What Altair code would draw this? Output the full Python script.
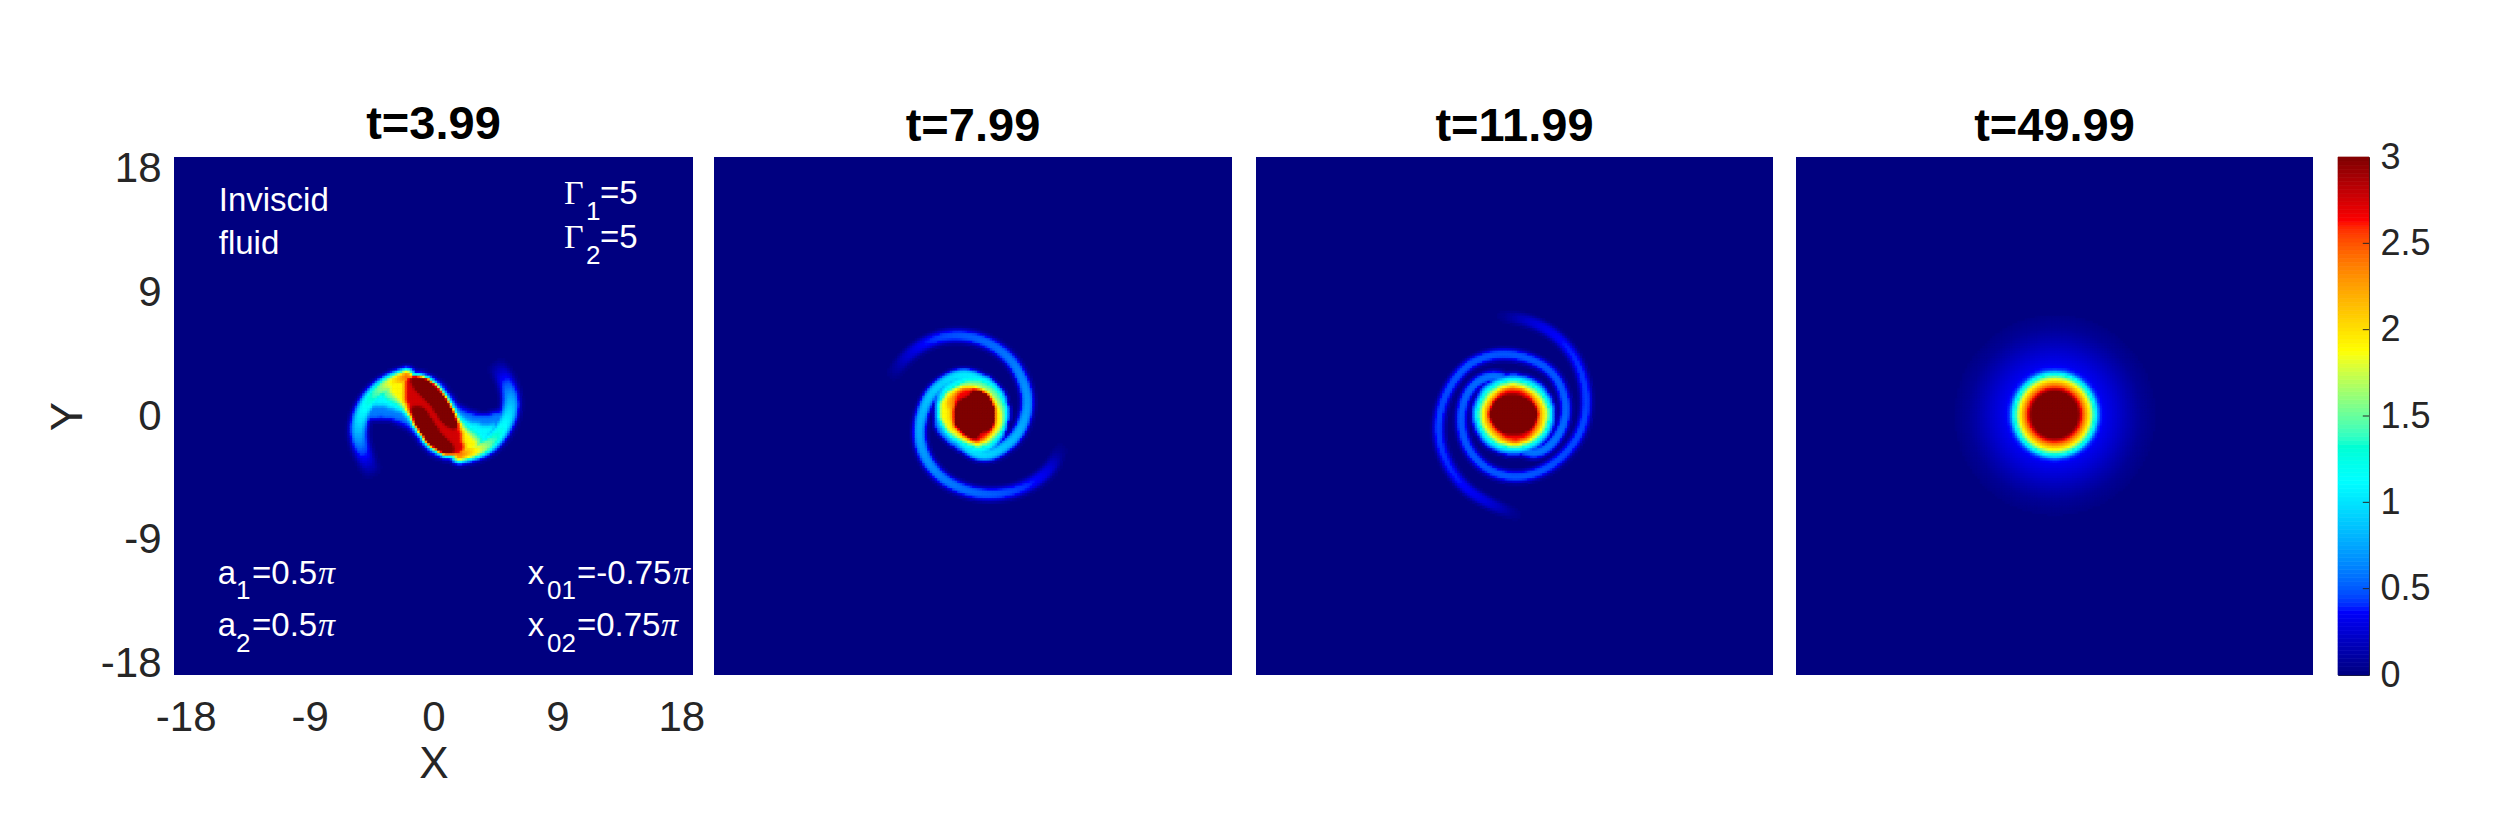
import numpy as np
import pandas as pd
import altair as alt

alt.data_transformers.disable_max_rows()

# ---------- values ----------
TITLES = ["t=3.99", "t=7.99", "t=11.99", "t=49.99"]
AXIS_TICKS = [-18, -9, 0, 9, 18]
CB_TICKS = [0, 0.5, 1, 1.5, 2, 2.5, 3]
JET_DOMAIN = [0, 0.375, 1.125, 1.875, 2.625, 3]
JET_RANGE = ["#000080", "#0000ff", "#00ffff", "#ffff00", "#ff0000", "#800000"]
LIM = 18.85

# Annotations: text, x, y in data units
SANS_BIG = [("Inviscid", -15.6, 14.92), ("fluid", -15.6, 11.79), ("=5", 12.09, 15.43), ("=5", 12.09, 12.23),
            ("a", -15.68, -12.23), ("a", -15.68, -16.01), ("=0.5", -13.18, -12.23), ("=0.5", -13.18, -16.01),
            ("x", 6.84, -12.23), ("x", 6.84, -16.01), ("=-0.75", 10.42, -12.23), ("=0.75", 10.42, -16.01)]
SANS_SUB = [("1", 11.07, 14.26), ("2", 11.07, 11.06), ("1", -14.34, -13.32), ("2", -14.34, -17.18),
            ("01", 8.24, -13.32), ("02", 8.24, -17.18)]
GAMMA = [("Γ", 9.48, 15.43), ("Γ", 9.48, 12.23)]
PI = [("π", -8.39, -12.23), ("π", -8.39, -16.01), ("π", 17.39, -12.23), ("π", 16.52, -16.01)]

P1_LEVELS = [
    (0.3, [(135,225),(195,150),(280,118),(335,128),(378,165),(418,220),(450,240),(505,248),(550,230),(575,255),(548,328),(490,375),(400,392),(345,382),(302,345),(272,300),(235,280),(175,262),(130,280),(105,270)]),
    (0.6, [(150,215),(200,160),(280,125),(330,135),(370,170),(410,225),(440,250),(500,258),(545,240),(565,260),(540,320),(490,365),(400,385),(350,375),(310,340),(280,290),(240,270),(180,255),(135,270),(115,265)]),
    (1.1, [(180,180),(215,152),(255,135),(290,132),(325,142),(355,165),(382,200),(405,238),(425,262),(460,278),(500,285),(535,278),(500,330),(465,358),(425,375),(390,378),(355,368),(325,345),(298,310),(275,272),(255,248),(220,232),(180,225),(145,232)]),
    (1.5, [(190,172),(225,145),(270,130),(310,135),(345,160),(378,200),(402,240),(425,275),(465,305),(495,330),(475,358),(430,378),(385,380),(345,360),(308,325),(280,280),(258,245),(225,215),(190,200)]),
    (1.9, [(222,148),(260,133),(300,133),(340,153),(373,188),(397,226),(415,266),(435,295),(465,322),(480,347),(458,362),(420,376),(380,378),(342,358),(307,323),(283,284),(262,245),(245,215),(215,188),(200,165)]),
    (2.75, [(250,143),(285,132),(324,142),(355,167),(385,207),(405,248),(420,283),(430,320),(434,368),(395,379),(358,369),(325,343),(296,304),(275,262),(260,227),(254,190)]),
    (3.6, [(270,138),(300,138),(340,155),(372,192),(396,232),(412,272),(405,292),(385,285),(362,258),(336,218),(306,188),(285,168)]),
    (3.6, [(278,230),(305,228),(332,268),(362,314),(392,340),(402,372),(370,367),(335,345),(304,310),(282,270)]),
]
P1_ARMS = [
    ([(165,440,0.0),(135,380,0.35),(115,320,0.75),(118,270,1.0),(140,220,1.2),(175,180,1.5),(215,155,1.9),(260,140,2.4)], 26),
    ([(520,90,0.0),(555,140,0.35),(575,200,0.75),(570,250,1.0),(545,300,1.2),(510,340,1.5),(470,360,1.9),(420,370,2.4)], 26),
]
P2_LEVELS = [
    (0.7, [(250,230),(300,195),(360,185),(420,195),(465,240),(482,300),(470,370),(430,425),(385,442),(340,428),(300,400),(265,370),(250,320),(255,270)]),
    (1.1, [(285,225),(330,198),(380,192),(425,205),(460,245),(476,305),(462,370),(420,420),(385,432),(350,415),(325,398),(285,365),(263,320),(265,270)]),
    (1.55, [(320,222),(370,205),(420,220),(452,255),(472,310),(458,365),(420,405),(380,412),(340,398),(290,365),(266,320),(272,270)]),
    (1.9, [(295,240),(345,224),(395,232),(435,262),(462,310),(450,360),(415,395),(375,405),(330,385),(290,355),(268,320),(270,275)]),
    (2.25, [(290,262),(340,228),(390,232),(425,262),(440,310),(430,360),(405,392),(370,398),(335,378),(305,345),(300,305)]),
    (2.65, [(310,252),(345,230),(385,232),(415,260),(440,310),(432,360),(400,395),(370,395),(350,375),(325,345)]),
    (3.6, [(312,310),(325,278),(350,264),(368,258),(372,235),(400,240),(425,268),(438,310),(432,345),(410,360),(390,358),(378,390),(355,375),(330,360),(315,340)]),
]
P2_ARMS = [
    ([(120,200,0.02),(180,125,0.28),(260,80,0.45),(340,72,0.5),(420,95,0.55),(490,150,0.6),(530,230,0.68),(535,300,0.72),(505,375,0.8),(450,420,0.88),(410,435,0.95),(370,425,1.0),(335,395,1.0)], 20),
    ([(630,420,0.05),(600,480,0.3),(530,530,0.42),(450,552,0.5),(370,548,0.55),(290,515,0.6),(235,460,0.68),(207,390,0.75),(212,320,0.8),(240,250,0.88),(290,208,0.95),(340,190,1.05),(390,205,1.05),(430,235,1.05)], 20),
]
P3_CENTER = (342, 342)
# radii of each level at 0, 30, ... 330 degrees
P3_LEVELS = [
    (0.6, [130,129,127,126,127,129,130,129,127,126,127,129]),
    (1.1, [120,118,116,115,116,118,120,118,116,115,116,118]),
    (1.5, [112,110,106,104,106,108,112,108,104,102,106,110]),
    (1.9, [103,99,93,95,95,97,99,99,97,95,97,101]),
    (2.25, [93,87,83,87,87,89,91,89,87,87,87,91]),
    (2.65, [74,74,80,87,82,74,74,74,78,87,87,78]),
    (3.6, [72,66,58,58,62,70,74,68,60,57,60,68]),
]
P3_ARMS = [
    ([(310,45,0.05),(400,62,0.28),(480,110,0.38),(540,190,0.42),(565,300,0.45),(545,400,0.47),(480,480,0.47),(400,525,0.5),(320,530,0.5),(250,500,0.5),(200,440,0.5),(182,370,0.5),(190,300,0.52),(225,245,0.55),(280,222,0.58),(330,240,0.58),(380,255,0.58)], 18),
    ([(345,640,0.05),(270,610,0.28),(190,560,0.38),(135,480,0.42),(112,390,0.45),(130,290,0.47),(190,200,0.5),(260,165,0.5),(330,158,0.5),(410,180,0.5),(470,225,0.5),(500,300,0.52),(495,370,0.55),(460,430,0.58),(410,462,0.58),(360,445,0.58),(310,430,0.58)], 18),
]
P4_R = [0, 70, 80, 93, 105, 115, 123, 130, 136, 150, 180, 220, 260, 300, 340]
P4_V = [3.6, 3.0, 2.65, 2.25, 1.875, 1.45, 1.125, 0.7, 0.42, 0.33, 0.26, 0.16, 0.07, 0.02, 0.0]

# ---------- panel geometry ----------
PANELS = [  # left, right of plot area; crop origin and size of the field window
    dict(l=174, r=693, crop=(320, 330, 220, 180)),
    dict(l=714, r=1232, crop=(850, 310, 220, 200)),
    dict(l=1256, r=1773, crop=(1400, 300, 220, 220)),
    dict(l=1796, r=2313, crop=(1895, 255, 320, 320)),
]
TOP, BOTTOM = 156, 674
CELL = 2.5


def chaikin(pts, n=3, closed=True):
    p = np.asarray(pts, float)
    for _ in range(n):
        if closed:
            q = np.roll(p, -1, axis=0)
            a, b = 0.75 * p + 0.25 * q, 0.25 * p + 0.75 * q
            p = np.empty((2 * len(a), p.shape[1]))
            p[0::2], p[1::2] = a, b
        else:
            a, b = 0.75 * p[:-1] + 0.25 * p[1:], 0.25 * p[:-1] + 0.75 * p[1:]
            m = np.empty((2 * len(a), p.shape[1]))
            m[0::2], m[1::2] = a, b
            p = np.vstack([p[:1], m, p[-1:]])
    return p


def inpoly(X, Y, pts):
    inside = np.zeros(X.shape, bool)
    x0, y0 = pts[-1]
    for x1, y1 in pts:
        cond = (y1 > Y) != (y0 > Y)
        with np.errstate(divide="ignore", invalid="ignore"):
            xi = (x0 - x1) * (Y - y1) / (y0 - y1) + x1
        inside ^= cond & (X < xi)
        x0, y0 = x1, y1
    return inside


def blur(F, sigma):
    r = int(3 * sigma) + 1
    k = np.exp(-0.5 * (np.arange(-r, r + 1) / sigma) ** 2)
    k /= k.sum()
    F = np.apply_along_axis(lambda a: np.convolve(a, k, mode="same"), 0, F)
    return np.apply_along_axis(lambda a: np.convolve(a, k, mode="same"), 1, F)


def paint(X, Y, levels, sigma):
    F = np.zeros(X.shape)
    for v, pts in levels:
        F[inpoly(X, Y, chaikin(pts)[:, :2])] = v
    return blur(F, sigma)


def arms(X, Y, items):
    F = np.zeros(X.shape)
    for pts, w in items:
        P = chaikin(pts, 4, closed=False)
        d2 = (X.ravel()[:, None] - P[:, 0]) ** 2 + (Y.ravel()[:, None] - P[:, 1]) ** 2
        i = d2.argmin(axis=1)
        d = np.sqrt(d2[np.arange(len(i)), i])
        v = P[i, 2] * np.exp(-(d / w) ** 3)
        F = np.maximum(F, v.reshape(X.shape))
    return F


def window(p):
    cx0, cy0, w, h = p["crop"]
    xs = np.arange(0, w * 3, CELL * 3) + CELL * 1.5
    ys = np.arange(0, h * 3, CELL * 3) + CELL * 1.5
    return np.meshgrid(xs, ys)


def polar_levels(center, levels):
    out = []
    for v, radii in levels:
        a = np.deg2rad(np.arange(0, 360, 30))
        out.append((v, list(zip(center[0] + np.array(radii) * np.cos(a), center[1] - np.array(radii) * np.sin(a)))))
    return out


def field(i):
    X, Y = window(PANELS[i])
    if i == 0:
        F = np.maximum(paint(X, Y, P1_LEVELS, 0.8), arms(X, Y, P1_ARMS))
    elif i == 1:
        F = np.maximum(paint(X, Y, P2_LEVELS, 0.8), arms(X, Y, P2_ARMS))
    elif i == 2:
        F = np.maximum(paint(X, Y, polar_levels(P3_CENTER, P3_LEVELS), 0.9), arms(X, Y, P3_ARMS))
    else:
        R = np.hypot(X - 480, Y - 477)
        F = np.interp(R, P4_R, P4_V)
    return X, Y, F


def table(i):
    p = PANELS[i]
    X, Y, F = field(i)
    cx0, cy0, _, _ = p["crop"]
    ux = (p["r"] - p["l"]) / (2 * LIM)
    uy = (BOTTOM - TOP) / (2 * LIM)
    mx, my = (p["l"] + p["r"]) / 2, (TOP + BOTTOM) / 2
    px, py = cx0 + X / 3, cy0 + Y / 3
    dx, dy = CELL / 2 / ux, CELL / 2 / uy
    m = F > 0.02
    gx, gy = (px[m] - mx) / ux, (my - py[m]) / uy
    return pd.DataFrame({
        "x": np.round(gx - dx, 3), "x2": np.round(gx + dx, 3),
        "y": np.round(gy - dy, 3), "y2": np.round(gy + dy, 3),
        "v": np.round(F[m], 3),
    })


jet = alt.Scale(domain=JET_DOMAIN, range=JET_RANGE, clamp=True)
NAVY = JET_RANGE[0]
FONT = "Liberation Sans"


def texts(rows, font, size, style="normal"):
    df = pd.DataFrame(rows, columns=["t", "x", "y"])
    return alt.Chart(df).mark_text(color="white", font=font, fontSize=size, fontStyle=style,
                                   align="left", baseline="alphabetic").encode(
        x=alt.X("x:Q", scale=alt.Scale(domain=[-LIM, LIM], nice=False)),
        y=alt.Y("y:Q", scale=alt.Scale(domain=[-LIM, LIM], nice=False)),
        text="t:N")


def panel(i):
    p = PANELS[i]
    if i == 0:
        ax = alt.Axis(values=AXIS_TICKS, grid=False, ticks=False, domain=False, title="X", labelFont=FONT,
                      titleFont=FONT, labelFontSize=42, titleFontSize=44, titleFontWeight="normal",
                      labelColor="#262626", titleColor="#262626", labelPadding=22, titlePadding=4,
                      labelFlush=False, labelOverlap=False, labelExpr="'' + datum.value")
        ay = alt.Axis(values=AXIS_TICKS, grid=False, ticks=False, domain=False, title="Y", labelFont=FONT,
                      titleFont=FONT, labelFontSize=42, titleFontSize=44, titleFontWeight="normal",
                      labelColor="#262626", titleColor="#262626", labelPadding=13, titlePadding=10,
                      labelFlush=False, labelOverlap=False, labelExpr="'' + datum.value")
    else:
        ax = ay = None
    sx = alt.X("x:Q", scale=alt.Scale(domain=[-LIM, LIM], nice=False), axis=ax)
    sy = alt.Y("y:Q", scale=alt.Scale(domain=[-LIM, LIM], nice=False), axis=ay)
    bg = alt.Chart(pd.DataFrame({"x": [-LIM], "x2": [LIM], "y": [-LIM], "y2": [LIM]})).mark_rect(
        color=NAVY).encode(x=sx, x2="x2:Q", y=sy, y2="y2:Q")
    cells = alt.Chart(table(i)).mark_rect(strokeWidth=0.7).encode(
        x=sx, x2="x2:Q", y=sy, y2="y2:Q",
        fill=alt.Fill("v:Q", scale=jet, legend=None),
        stroke=alt.Stroke("v:Q", scale=jet, legend=None))
    layers = [bg, cells]
    if i == 0:
        layers += [texts(SANS_BIG, FONT, 33), texts(SANS_SUB, FONT, 26),
                   texts(GAMMA, "Liberation Serif", 34), texts(PI, "Liberation Serif", 34, "italic")]
    return alt.layer(*layers).properties(
        width=p["r"] - p["l"], height=BOTTOM - TOP,
        title=alt.TitleParams(TITLES[i], font=FONT, fontSize=47, fontWeight="bold", color="black",
                              offset=-1 if i == 0 else 6),
        view=alt.ViewConfig(strokeWidth=0))


LEVELS = np.linspace(0, 3, 129)
bar = pd.DataFrame({"y": LEVELS[:-1], "y2": LEVELS[1:], "v": (LEVELS[:-1] + LEVELS[1:]) / 2, "x": 0.0, "x2": 1.0})
ticks = pd.DataFrame({"y": CB_TICKS, "x": 0.8, "x2": 1.0})
cb_y = alt.Y("y:Q", scale=alt.Scale(domain=[0, 3], nice=False),
             axis=alt.Axis(orient="right", values=CB_TICKS, grid=False, ticks=False, domain=False, title=None,
                           labelFont=FONT, labelFontSize=36, labelColor="#262626", labelPadding=11,
                           labelFlush=False, labelOverlap=False,
                           labelExpr="format(datum.value, '~g')"))
cb_x = alt.X("x:Q", scale=alt.Scale(domain=[0, 1], nice=False), axis=None)
colorbar = alt.layer(
    alt.Chart(bar).mark_rect(strokeWidth=0.7).encode(
        x=cb_x, x2="x2:Q", y=cb_y, y2="y2:Q",
        fill=alt.Fill("v:Q", scale=jet, legend=None), stroke=alt.Stroke("v:Q", scale=jet, legend=None)),
    alt.Chart(ticks[(ticks.y > 0) & (ticks.y < 3)]).mark_rule(color="#262626", strokeWidth=1).encode(
        x=cb_x, x2="x2:Q", y=cb_y),
).properties(width=31, height=BOTTOM - TOP, view=alt.ViewConfig(stroke="#262626", strokeWidth=1))

chart = alt.hconcat(
    panel(0),
    alt.hconcat(
        panel(1),
        alt.hconcat(
            panel(2),
            alt.hconcat(panel(3), colorbar, spacing=25, bounds="flush"),
            spacing=23, bounds="flush"),
        spacing=24, bounds="flush"),
    spacing=21, bounds="flush",
).properties(padding={"left": 38, "top": 92, "right": 0, "bottom": 0}, background="white")

chart.save("out.html", embed_options={"renderer": "svg", "actions": False})
